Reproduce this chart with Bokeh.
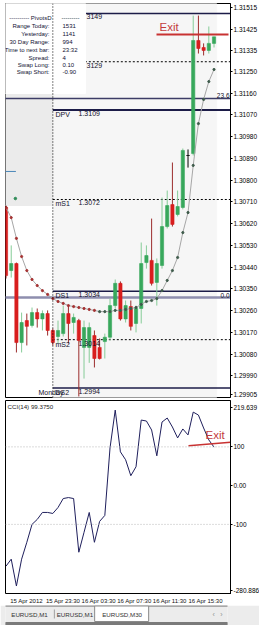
from bokeh.plotting import figure
from bokeh.models import ColumnDataSource, FixedTicker, Range1d, Label, Span
from bokeh.layouts import column
from bokeh.embed import file_html
from bokeh.resources import INLINE
from bokeh.core.properties import value

FONT = "Liberation Sans"

# ---------------- data (EURUSD, M30) ----------------
bars = list(range(41))
opens = [1.30687, 1.30426, 1.30455, 1.30128, 1.30219, 1.30199, 1.30252, 1.30226, 1.30248, 1.30178,
         1.30153, 1.30165, 1.30248, 1.30211, 1.30219, 1.30108, 1.30108, 1.30157, 1.30108, 1.30132,
         1.30150, 1.30281, 1.30373, 1.30226, 1.30277, 1.30207, 1.30269, 1.30459, 1.30468, 1.30377,
         1.30447, 1.30608, 1.30699, 1.30658, 1.30687, 1.30902, 1.30910, 1.31378, 1.31349, 1.31337,
         1.31366]
highs = [1.30695, 1.30530, 1.30459, 1.30252, 1.30248, 1.30273, 1.30269, 1.30261, 1.30261, 1.30186,
         1.30219, 1.30281, 1.30281, 1.30248, 1.30226, 1.30219, 1.30211, 1.30178, 1.30145, 1.30165,
         1.30310, 1.30389, 1.30381, 1.30302, 1.30302, 1.30281, 1.30542, 1.30530, 1.30641, 1.30476,
         1.30728, 1.30757, 1.30873, 1.30757, 1.30931, 1.30927, 1.31481, 1.31481, 1.31366, 1.31436,
         1.31393]
lows = [1.30393, 1.30397, 1.30087, 1.30087, 1.30116, 1.30190, 1.30190, 1.30178, 1.30157, 1.30116,
        1.30124, 1.30153, 1.30124, 1.30165, 1.29905, 1.29979, 1.30044, 1.30025, 1.30058, 1.30062,
        1.30137, 1.30269, 1.30219, 1.30211, 1.30178, 1.30170, 1.30207, 1.30434, 1.30364, 1.30281,
        1.30434, 1.30600, 1.30608, 1.30650, 1.30679, 1.30852, 1.30902, 1.31324, 1.31316, 1.31324,
        1.31349]
closes = [1.30405, 1.30455, 1.30128, 1.30211, 1.30195, 1.30252, 1.30226, 1.30248, 1.30178, 1.30128,
          1.30178, 1.30248, 1.30207, 1.30232, 1.30137, 1.30190, 1.30190, 1.30062, 1.30062, 1.30150,
          1.30281, 1.30373, 1.30226, 1.30281, 1.30195, 1.30269, 1.30455, 1.30488, 1.30373, 1.30455,
          1.30608, 1.30695, 1.30617, 1.30691, 1.30923, 1.30902, 1.31378, 1.31345, 1.31337, 1.31366,
          1.31393]
ma = [1.30687, 1.30645, 1.30559, 1.30484, 1.30426, 1.30389, 1.30364, 1.30343, 1.30327, 1.30310,
      1.30298, 1.30290, 1.30281, 1.30277, 1.30273, 1.30269, 1.30265, 1.30261, 1.30256, 1.30256,
      1.30256, 1.30261, 1.30261, 1.30265, 1.30269, 1.30273, 1.30286, 1.30298, 1.30302, 1.30310,
      1.30343, 1.30385, 1.30426, 1.30480, 1.30583, 1.30666, 1.30861, 1.31034, 1.31134, 1.31208,
      1.31258]
cci = [-207.7, -189.7, -259.0, -189.7, -146.2, -100.0, -87.2, -69.2, -69.2, -71.8,
       -56.4, -33.3, -30.8, -33.3, -171.8, -120.5, -69.2, -146.2, -92.3, -76.9,
       97.4, 194.9, 87.2, 66.7, 25.6, 48.7, 169.2, 166.7, 143.6, 76.9,
       164.1, 174.4, 151.3, 123.1, 146.2, 130.8, 189.7, 182.1, 148.7, 117.9,
       99.375]

time_ticks = [0, 8, 16, 24, 32, 40]
time_labels = ["15 Apr 2012", "15 Apr 23:30", "16 Apr 03:30", "16 Apr 07:30", "16 Apr 11:30", "16 Apr 15:30"]

price_tick_values = [1.31515, 1.31425, 1.31335, 1.31250, 1.31160, 1.31070, 1.30980, 1.30890, 1.30800,
                     1.30710, 1.30620, 1.30530, 1.30440, 1.30350, 1.30260, 1.30170, 1.30080, 1.29990, 1.29912]
price_tick_labels = ["1.31515", "1.31425", "1.31335", "1.31250", "1.31160", "1.31070", "1.30980", "1.30890",
                     "1.30800", "1.30710", "1.30620", "1.30530", "1.30440", "1.30350", "1.30260", "1.30170",
                     "1.30080", "1.29990", "1.29905"]
current_price = 1.31393
current_label = "1.31393"

cci_tick_values = [201.8, 100, 0, -100, -270.7]
cci_tick_labels = ["219.639", "100", "0.00", "-100", "-280.886"]
cci_levels = [100, -100]
cci_title = "CCI(14) 99.3750"

day_start = 9
pivot_names = ["DPV", "mS1", "DS1", "mS2", "DS2"]
pivot_values = [1.3109, 1.3072, 1.3034, 1.3014, 1.2994]
pivot_solid = [True, False, True, False, True]
upper_values = [1.3149, 1.3129]
upper_labels = ["3149", "3129"]
upper_solid = [True, False]
fib_values = [1.31138, 1.30314]
fib_labels = ["23.6", "0.0"]
prev_box_bottom = 1.30695
day_label = "Monday"

info_header = ["---------- PivotsD", "---------"]
info_labels = ["Range Today:", "Yesterday:", "30 Day Range:", "Time to next bar:", "Spread:", "Swap Long:", "Swap Short:"]
info_values = ["1531", "1141", "994", "23:32", "4", "0.10", "-0.90"]

exit_price_line = [1.31403, 1.31403]
exit_cci_line = [103, 112]
exit_text = "Exit"

aux_line_price = 1.30836
aux_dot = (1.8, 1.30724)

tab_labels = ["EURUSD,M1", "EURUSD,M1", "EURUSD,M30"]

# ---------------- layout helpers ----------------
BAR_PX = 5.2
X0 = -0.1
FRAME_W = 225
X1 = X0 + FRAME_W / BAR_PX
P_TOP = 1.31531
PX_PER_PRICE = 24167.0
MAIN_H = 394
P_BOT = P_TOP - MAIN_H / PX_PER_PRICE
C_TOP, C_BOT = 219.639, -280.886
CCI_H = 194


def px_x(px):
    return X0 + (px - 5) / BAR_PX


def py_p(py):
    return P_TOP - (py - 3) / PX_PER_PRICE


def py_c(py):
    return C_TOP - (py - 400) * (C_TOP - C_BOT) / CCI_H


NAVY = "#1c1c48"
UP, DOWN = "#38a85c", "#d81e1e"
UPW, DOWNW = "#86cc98", "#9b2c2c"

# ---------------- main price chart ----------------
xr = Range1d(X0, X1)
p = figure(frame_width=FRAME_W, frame_height=MAIN_H, x_range=xr, y_range=Range1d(P_BOT, P_TOP),
           output_backend="svg", toolbar_location=None, y_axis_location="right", x_axis_location=None,
           min_border_left=5, min_border_right=0, min_border_top=3, min_border_bottom=1,
           background_fill_color="white", border_fill_color="white")
p.grid.visible = False
p.outline_line_color = "black"
p.yaxis.ticker = FixedTicker(ticks=price_tick_values)
p.yaxis.major_label_overrides = {v: l for v, l in zip(price_tick_values, price_tick_labels)}
p.yaxis.major_label_text_font = FONT
p.yaxis.major_label_text_font_size = "6.5px"
p.yaxis.major_label_text_color = "black"
p.yaxis.major_label_standoff = 1
p.yaxis.major_tick_out = 2
p.yaxis.major_tick_in = 0
p.yaxis.minor_tick_line_color = None
p.yaxis.axis_line_color = "black"

# backgrounds
p.quad(left=[day_start], right=[bars[-1] + 0.5], top=[P_TOP], bottom=[P_BOT], color="#f6f6f6")
p.quad(left=[X0 - 1], right=[day_start], top=[P_TOP], bottom=[prev_box_bottom], color="#ebebeb")

# level lines
for v, solid in zip(upper_values, upper_solid):
    if solid:
        p.segment(x0=[day_start], y0=[v], x1=[X1], y1=[v], line_color=NAVY, line_width=1.5)
    else:
        p.segment(x0=[day_start], y0=[v], x1=[X1], y1=[v], line_color="black", line_width=1, line_dash="2 2")
p.segment(x0=[X0 - 1], y0=[fib_values[0]], x1=[X1], y1=[fib_values[0]], line_color="#3c3c66", line_width=1.5)
p.segment(x0=[X0 - 1], y0=[fib_values[1]], x1=[X1], y1=[fib_values[1]], line_color="#8e8eae", line_width=2.5)
for v, solid, name in zip(pivot_values, pivot_solid, pivot_names):
    if solid:
        p.segment(x0=[day_start], y0=[v], x1=[X1], y1=[v], line_color=NAVY,
                  line_width=2 if name == "DPV" else 1.5)
    else:
        p.segment(x0=[day_start], y0=[v], x1=[X1], y1=[v], line_color="black", line_width=1, line_dash="2 2")

# info panel
p.quad(left=[X0 - 1], right=[px_x(85)], top=[P_TOP], bottom=[py_p(93)], color="white")
p.add_layout(Span(location=day_start, dimension="height", line_color="black", line_dash="1 2", line_width=1))

# auxiliary marks
p.segment(x0=[X0 - 1], y0=[aux_line_price], x1=[1.9], y1=[aux_line_price], line_color="#4a86b8", line_width=1)
p.scatter(x=[aux_dot[0]], y=[aux_dot[1]], size=2.5, color="#2e8b57")

# candles
body_top = [max(o, c) for o, c in zip(opens, closes)]
body_bot = [min(o, c) for o, c in zip(opens, closes)]
body_col = [UP if c > o else (DOWN if c < o else "black") for o, c in zip(opens, closes)]
wick_col = [UPW if c > o else (DOWNW if c < o else "black") for o, c in zip(opens, closes)]
src = ColumnDataSource(dict(x=bars, h=highs, l=lows, top=body_top, bot=body_bot, bc=body_col, wc=wick_col))
p.segment(x0="x", y0="l", x1="x", y1="h", source=src, line_color="wc", line_width=1)
p.vbar(x="x", width=0.62, top="top", bottom="bot", source=src, fill_color="bc", line_color="bc", line_width=0.6)

# moving average
p.line(bars, ma, line_color="#a6a6a6", line_width=1)
p.scatter(bars, ma, size=2.2, color=["#a53030" if i <= 17 else "#3d5a4a" for i in bars])

# level texts
TXT = dict(text_font=value(FONT), text_font_size=value("7px"), text_color="#10102a")
p.text(x=[day_start + 0.52] * len(pivot_names), y=pivot_values, text=pivot_names,
       text_align="left", text_baseline="top", y_offset=1, **TXT)
p.text(x=[day_start + 4.94] * len(pivot_values), y=pivot_values, text=[f"{v:.4f}" for v in pivot_values],
       text_align="left", text_baseline="top", y_offset=1, **TXT)
p.text(x=[px_x(38)], y=[pivot_values[-1]], text=[day_label], text_align="left", text_baseline="top",
       y_offset=1, **TXT)
p.text(x=[px_x(86)] * 2, y=upper_values, text=upper_labels, text_align="left", text_baseline="top",
       y_offset=1, **TXT)
p.text(x=[X1] * 2, y=fib_values, text=fib_labels, text_align="right", text_baseline="bottom",
       x_offset=-1, text_font=value(FONT), text_font_size=value("6.5px"), text_color="#10102a")

# info texts
rows_y = [py_p(v) for v in [25, 33, 41, 49, 57, 64, 71]]
INFO = dict(text_font=value(FONT), text_font_size=value("6px"), text_color="#111133", text_baseline="middle")
p.text(x=[px_x(51)], y=[py_p(17)], text=[info_header[0]], text_align="right", **INFO)
p.text(x=[px_x(61)], y=[py_p(17)], text=[info_header[1]], text_align="left", **INFO)
p.text(x=[px_x(49)] * len(info_labels), y=rows_y, text=info_labels, text_align="right", **INFO)
p.text(x=[px_x(62)] * len(info_values), y=rows_y, text=info_values, text_align="left", **INFO)

# exit marker
p.segment(x0=[px_x(156)], y0=[exit_price_line[0]], x1=[px_x(228)], y1=[exit_price_line[1]],
          line_color="#c83232", line_width=2)
p.text(x=[px_x(159)], y=[py_p(26)], text=[exit_text], text_align="left", text_baseline="middle",
       text_font=value(FONT), text_font_size=value("11.5px"), text_color="#c43b3b")

p.add_layout(Label(x=X1, y=current_price, x_offset=1, text=current_label, text_font=FONT,
                   text_font_size="6.5px", text_color="white", text_align="left", text_baseline="middle",
                   background_fill_color="#0d0d3d", padding=1))

# ---------------- CCI panel ----------------
q = figure(frame_width=FRAME_W, frame_height=CCI_H, x_range=xr, y_range=Range1d(C_BOT, C_TOP),
           output_backend="svg", toolbar_location=None, y_axis_location="right", x_axis_location=None,
           min_border_left=5, min_border_right=0, min_border_top=2, min_border_bottom=0,
           background_fill_color="white", border_fill_color="white")
q.grid.visible = False
q.outline_line_color = "black"
q.yaxis.ticker = FixedTicker(ticks=cci_tick_values)
q.yaxis.major_label_overrides = {v: l for v, l in zip(cci_tick_values, cci_tick_labels)}
q.yaxis.major_label_text_font = FONT
q.yaxis.major_label_text_font_size = "6.5px"
q.yaxis.major_label_text_color = "black"
q.yaxis.major_label_standoff = 1
q.yaxis.major_tick_out = 2
q.yaxis.major_tick_in = 0
q.yaxis.minor_tick_line_color = None
q.yaxis.axis_line_color = "black"
for lv in cci_levels:
    q.add_layout(Span(location=lv, dimension="width", line_color="#b8b8b8", line_dash="1 2", line_width=1))
q.line(bars, cci, line_color="#1f1f5c", line_width=1)
q.text(x=[px_x(7)], y=[py_c(406)], text=[cci_title], text_align="left", text_baseline="middle",
       text_font=value(FONT), text_font_size=value("6.2px"), text_color="#222222")
q.segment(x0=[px_x(188)], y0=[exit_cci_line[0]], x1=[X1], y1=[exit_cci_line[1]],
          line_color="#c83232", line_width=1.5)
q.text(x=[px_x(205)], y=[py_c(434)], text=[exit_text], text_align="left", text_baseline="middle",
       text_font=value(FONT), text_font_size=value("11.5px"), text_color="#c43b3b")

# ---------------- time labels ----------------
t = figure(width=259, height=11, x_range=Range1d(px_x(0), px_x(259)), y_range=Range1d(0, 1),
           output_backend="svg", toolbar_location=None, x_axis_location=None, y_axis_location=None,
           min_border=0, background_fill_color="white", border_fill_color="white")
t.grid.visible = False
t.outline_line_color = None
t.text(x=time_ticks, y=[0.5] * len(time_ticks), text=time_labels, text_align="left", text_baseline="middle",
       text_font=value(FONT), text_font_size=value("6px"), text_color="#111111")

# ---------------- tabs ----------------
tb = figure(width=259, height=20, x_range=Range1d(0, 259), y_range=Range1d(20, 0),
            output_backend="svg", toolbar_location=None, x_axis_location=None, y_axis_location=None,
            min_border=0, background_fill_color="#ececec", border_fill_color="#ececec")
tb.grid.visible = False
tb.outline_line_color = None
tb.quad(left=[0], right=[259], top=[0], bottom=[1], color="#a8a8a8")
tb.quad(left=[104], right=[167], top=[0.5], bottom=[16], fill_color="white", line_color="#8a8a8a")
tb.segment(x0=[57], y0=[4], x1=[57], y1=[13], line_color="#a0a0a0", line_width=1)
tb.text(x=[28, 81, 136], y=[9, 9, 8.5], text=tab_labels, text_align="center", text_baseline="middle",
        text_font=value(FONT), text_font_size=value("6.2px"), text_color="#333333")
tb.text(x=[243, 252], y=[9, 9], text=["\u2039", "\u203a"], text_align="center", text_baseline="middle",
        text_font=value(FONT), text_font_size=value("7px"), text_color="#909090")
tb.quad(left=[0], right=[259], top=[17], bottom=[20], color="#7a7a7a")

layout = column(p, q, t, tb, spacing=0)
open("out.html", "w").write(file_html(layout, INLINE))
